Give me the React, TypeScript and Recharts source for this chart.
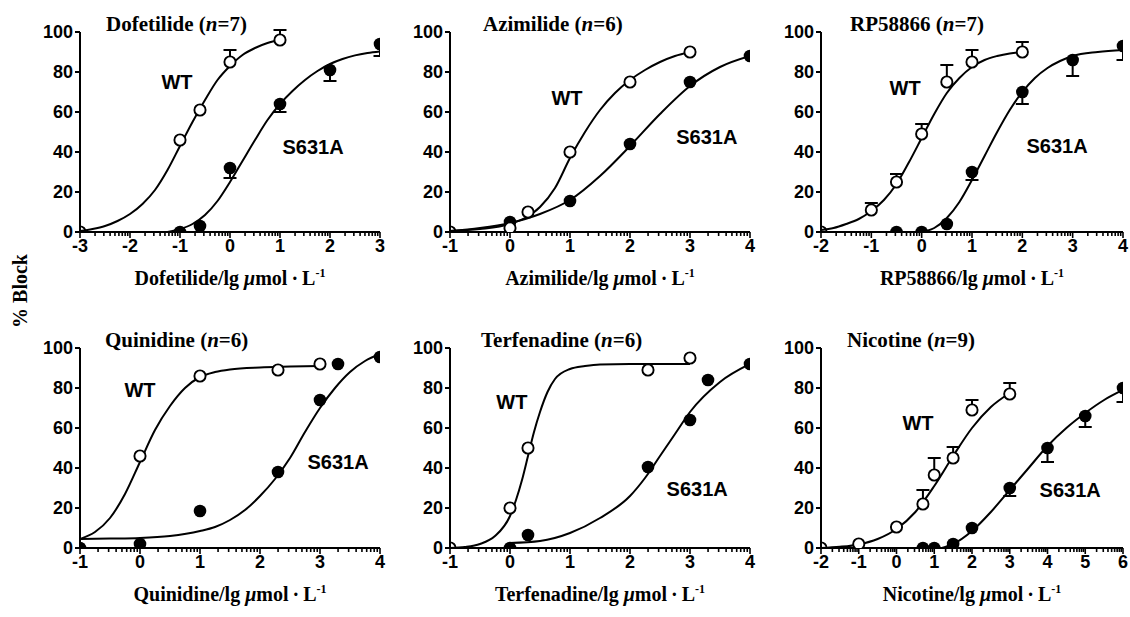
import React from 'react';
import { ComposedChart, Line, Scatter, XAxis, YAxis, ReferenceDot, ReferenceLine } from 'recharts';

const SANS = '"Liberation Sans", Arial, sans-serif';
const SERIF = '"Liberation Serif", "Times New Roman", serif';

type Pt = { x: number; y: number; e: number[] };
type CPt = { x: number; y: number | null };
type Lb = { x: number; y: number; text: string };

const yTicks = [0, 20, 40, 60, 80, 100];

// ---------- Dofetilide ----------
const dofTicks = [-3, -2, -1, 0, 1, 2, 3];
const dofWtPoints: Pt[] = [
  { x: -3, y: 0, e: [0, 0] },
  { x: -1, y: 46, e: [0, 0] },
  { x: -0.6, y: 61, e: [0, 0] },
  { x: 0, y: 85, e: [0, 6] },
  { x: 1, y: 96, e: [0, 5] },
];
const dofMutPoints: Pt[] = [
  { x: -1, y: 0, e: [0, 0] },
  { x: -0.6, y: 3, e: [0, 0] },
  { x: 0, y: 32, e: [5, 0] },
  { x: 1, y: 64, e: [4, 0] },
  { x: 2, y: 81, e: [5.5, 0] },
  { x: 3, y: 94, e: [6, 0] },
];
const dofWtCurve: CPt[] = [
  { x: -3, y: 0.5 }, { x: -2.75, y: 1.5 }, { x: -2.5, y: 3 }, { x: -2.25, y: 5.5 }, { x: -2, y: 9 },
  { x: -1.75, y: 14 }, { x: -1.5, y: 21 }, { x: -1.25, y: 31 }, { x: -1, y: 43 }, { x: -0.75, y: 55 },
  { x: -0.5, y: 66 }, { x: -0.25, y: 76 }, { x: 0, y: 83 }, { x: 0.25, y: 88.5 }, { x: 0.5, y: 92 },
  { x: 0.75, y: 94.5 }, { x: 1, y: 96 },
];
const dofMutCurve: CPt[] = [
  { x: -1.25, y: 0 }, { x: -1, y: 1.5 }, { x: -0.75, y: 4 }, { x: -0.5, y: 8.5 }, { x: -0.25, y: 15.5 },
  { x: 0, y: 25 }, { x: 0.25, y: 35.5 }, { x: 0.5, y: 46 }, { x: 0.75, y: 56 }, { x: 1, y: 64 },
  { x: 1.25, y: 70.5 }, { x: 1.5, y: 76 }, { x: 1.75, y: 80.5 }, { x: 2, y: 84 }, { x: 2.25, y: 86.5 },
  { x: 2.5, y: 88.3 }, { x: 2.75, y: 89.5 }, { x: 3, y: 90.3 },
];
const dofLabels: Lb[] = [
  { x: -1.06, y: 75, text: 'WT' },
  { x: 1.66, y: 42.6, text: 'S631A' },
];

// ---------- Azimilide ----------
const azTicks = [-1, 0, 1, 2, 3, 4];
const azWtPoints: Pt[] = [
  { x: -1, y: 0, e: [0, 0] },
  { x: 0, y: 2, e: [0, 0] },
  { x: 0.3, y: 10, e: [0, 0] },
  { x: 1, y: 40, e: [0, 0] },
  { x: 2, y: 75, e: [0, 0] },
  { x: 3, y: 90, e: [0, 0] },
];
const azMutPoints: Pt[] = [
  { x: 0, y: 5, e: [0, 0] },
  { x: 1, y: 15.5, e: [0, 0] },
  { x: 2, y: 44, e: [0, 0] },
  { x: 3, y: 75, e: [0, 0] },
  { x: 4, y: 88, e: [0, 0] },
];
const azWtCurve: CPt[] = [
  { x: -1, y: 0.5 }, { x: -0.5, y: 1.5 }, { x: 0, y: 4 }, { x: 0.25, y: 7 }, { x: 0.5, y: 12.5 },
  { x: 0.75, y: 22 }, { x: 1, y: 37 }, { x: 1.25, y: 50 }, { x: 1.5, y: 61 }, { x: 1.75, y: 69.5 },
  { x: 2, y: 76 }, { x: 2.25, y: 81 }, { x: 2.5, y: 85 }, { x: 2.75, y: 88 }, { x: 3, y: 90 },
];
const azMutCurve: CPt[] = [
  { x: -1, y: 0.5 }, { x: -0.5, y: 2 }, { x: 0, y: 4.5 }, { x: 0.5, y: 9 }, { x: 1, y: 16 },
  { x: 1.5, y: 28 }, { x: 2, y: 43 }, { x: 2.5, y: 59 }, { x: 3, y: 73 }, { x: 3.5, y: 82.5 }, { x: 4, y: 88 },
];
const azLabels: Lb[] = [
  { x: 0.95, y: 67, text: 'WT' },
  { x: 3.28, y: 47.6, text: 'S631A' },
];

// ---------- RP58866 ----------
const rpTicks = [-2, -1, 0, 1, 2, 3, 4];
const rpWtPoints: Pt[] = [
  { x: -2, y: 0, e: [0, 0] },
  { x: -1, y: 11, e: [0, 3.5] },
  { x: -0.5, y: 25, e: [0, 4] },
  { x: 0, y: 49, e: [0, 5] },
  { x: 0.5, y: 75, e: [0, 8.5] },
  { x: 1, y: 85, e: [0, 6] },
  { x: 2, y: 90, e: [0, 5] },
];
const rpMutPoints: Pt[] = [
  { x: -0.5, y: 0, e: [0, 0] },
  { x: 0, y: 0, e: [0, 0] },
  { x: 0.5, y: 4, e: [0, 0] },
  { x: 1, y: 30, e: [4, 0] },
  { x: 2, y: 70, e: [6, 0] },
  { x: 3, y: 86, e: [8, 0] },
  { x: 4, y: 93, e: [7, 0] },
];
const rpWtCurve: CPt[] = [
  { x: -2, y: 1 }, { x: -1.75, y: 2 }, { x: -1.5, y: 4 }, { x: -1.25, y: 6.5 }, { x: -1, y: 10.5 },
  { x: -0.75, y: 16 }, { x: -0.5, y: 24 }, { x: -0.25, y: 35 }, { x: 0, y: 47 }, { x: 0.25, y: 59 },
  { x: 0.5, y: 69.5 }, { x: 0.75, y: 77 }, { x: 1, y: 82.5 }, { x: 1.25, y: 86 }, { x: 1.5, y: 88 },
  { x: 1.75, y: 89.3 }, { x: 2, y: 90 },
];
const rpMutCurve: CPt[] = [
  { x: 0, y: 0 }, { x: 0.25, y: 2 }, { x: 0.5, y: 7 }, { x: 0.75, y: 15 }, { x: 1, y: 26 },
  { x: 1.25, y: 38 }, { x: 1.5, y: 50 }, { x: 1.75, y: 61 }, { x: 2, y: 70 }, { x: 2.25, y: 77 },
  { x: 2.5, y: 82 }, { x: 2.75, y: 85.5 }, { x: 3, y: 88 }, { x: 3.5, y: 90 }, { x: 4, y: 91 },
];
const rpLabels: Lb[] = [
  { x: -0.33, y: 72, text: 'WT' },
  { x: 2.69, y: 43, text: 'S631A' },
];

// ---------- Quinidine ----------
const quTicks = [-1, 0, 1, 2, 3, 4];
const quWtPoints: Pt[] = [
  { x: 0, y: 46, e: [0, 0] },
  { x: 1, y: 86, e: [0, 0] },
  { x: 2.3, y: 89, e: [0, 0] },
  { x: 3, y: 92, e: [0, 0] },
];
const quMutPoints: Pt[] = [
  { x: -1, y: 0, e: [0, 0] },
  { x: 0, y: 2, e: [0, 0] },
  { x: 1, y: 18.5, e: [0, 0] },
  { x: 2.3, y: 38, e: [0, 0] },
  { x: 3, y: 74, e: [0, 0] },
  { x: 3.3, y: 92, e: [0, 0] },
  { x: 4, y: 95.5, e: [0, 0] },
];
const quWtCurve: CPt[] = [
  { x: -1, y: 4.5 }, { x: -0.75, y: 8 }, { x: -0.5, y: 15 }, { x: -0.25, y: 27 }, { x: 0, y: 43 },
  { x: 0.25, y: 59 }, { x: 0.5, y: 71 }, { x: 0.75, y: 80 }, { x: 1, y: 85.5 }, { x: 1.25, y: 88 },
  { x: 1.5, y: 89.3 }, { x: 2, y: 90.3 }, { x: 2.5, y: 90.7 }, { x: 3, y: 91 },
];
const quMutCurve: CPt[] = [
  { x: -1, y: 4.5 }, { x: -0.5, y: 4.7 }, { x: 0, y: 5 }, { x: 0.5, y: 6 }, { x: 1, y: 8.5 },
  { x: 1.25, y: 10.5 }, { x: 1.5, y: 14 }, { x: 1.75, y: 19 }, { x: 2, y: 26 }, { x: 2.25, y: 34.5 },
  { x: 2.5, y: 45 }, { x: 2.75, y: 58 }, { x: 3, y: 70 }, { x: 3.25, y: 80 }, { x: 3.5, y: 88 },
  { x: 3.75, y: 93.5 }, { x: 4, y: 97 },
];
const quLabels: Lb[] = [
  { x: 0, y: 79, text: 'WT' },
  { x: 3.3, y: 43, text: 'S631A' },
];

// ---------- Terfenadine ----------
const teTicks = [-1, 0, 1, 2, 3, 4];
const teWtPoints: Pt[] = [
  { x: -1, y: 0, e: [0, 0] },
  { x: 0, y: 20, e: [0, 0] },
  { x: 0.3, y: 50, e: [0, 0] },
  { x: 2.3, y: 89, e: [0, 0] },
  { x: 3, y: 95, e: [0, 0] },
];
const teMutPoints: Pt[] = [
  { x: 0, y: 0, e: [0, 0] },
  { x: 0.3, y: 6.5, e: [0, 0] },
  { x: 2.3, y: 40.5, e: [0, 0] },
  { x: 3, y: 64, e: [0, 0] },
  { x: 3.3, y: 84, e: [0, 0] },
  { x: 4, y: 92, e: [0, 0] },
];
const teWtCurve: CPt[] = [
  { x: -1, y: 0 }, { x: -0.75, y: 0.5 }, { x: -0.5, y: 2 }, { x: -0.25, y: 6 }, { x: 0, y: 16 },
  { x: 0.1, y: 24 }, { x: 0.2, y: 34 }, { x: 0.3, y: 46 }, { x: 0.4, y: 58 }, { x: 0.5, y: 68 },
  { x: 0.625, y: 78 }, { x: 0.75, y: 84.5 }, { x: 1, y: 89.5 }, { x: 1.25, y: 91 }, { x: 1.5, y: 91.8 },
  { x: 2, y: 92 }, { x: 3, y: 92 },
];
const teMutCurve: CPt[] = [
  { x: 0, y: 2.5 }, { x: 0.5, y: 3.5 }, { x: 1, y: 7.5 }, { x: 1.5, y: 15 }, { x: 2, y: 26 },
  { x: 2.25, y: 35 }, { x: 2.5, y: 46 }, { x: 2.75, y: 57 }, { x: 3, y: 68 }, { x: 3.5, y: 83 }, { x: 4, y: 92 },
];
const teLabels: Lb[] = [
  { x: 0.03, y: 73, text: 'WT' },
  { x: 3.12, y: 29.6, text: 'S631A' },
];

// ---------- Nicotine ----------
const niTicks = [-2, -1, 0, 1, 2, 3, 4, 5, 6];
const niWtPoints: Pt[] = [
  { x: -2, y: 0, e: [0, 0] },
  { x: -1, y: 2, e: [0, 0] },
  { x: 0, y: 10.5, e: [0, 0] },
  { x: 0.7, y: 22, e: [0, 7] },
  { x: 1, y: 36.5, e: [0, 8.5] },
  { x: 1.5, y: 45, e: [0, 5.5] },
  { x: 2, y: 69, e: [0, 5] },
  { x: 3, y: 77, e: [0, 5.5] },
];
const niMutPoints: Pt[] = [
  { x: 0.7, y: 0, e: [0, 0] },
  { x: 1, y: 0, e: [0, 0] },
  { x: 1.5, y: 2, e: [0, 0] },
  { x: 2, y: 10, e: [0, 0] },
  { x: 3, y: 30, e: [4, 0] },
  { x: 4, y: 50, e: [7, 0] },
  { x: 5, y: 66, e: [5.5, 0] },
  { x: 6, y: 80, e: [7, 0] },
];
const niWtCurve: CPt[] = [
  { x: -2, y: 0 }, { x: -1.5, y: 0.6 }, { x: -1, y: 1.8 }, { x: -0.5, y: 4.5 }, { x: 0, y: 9.5 },
  { x: 0.5, y: 18 }, { x: 1, y: 31 }, { x: 1.5, y: 46 }, { x: 2, y: 60 }, { x: 2.5, y: 70.5 }, { x: 3, y: 77.5 },
];
const niMutCurve: CPt[] = [
  { x: 1.2, y: 0 }, { x: 1.5, y: 2 }, { x: 2, y: 8.5 }, { x: 2.5, y: 18 }, { x: 3, y: 29 },
  { x: 3.5, y: 40 }, { x: 4, y: 51 }, { x: 4.5, y: 60 }, { x: 5, y: 67.5 }, { x: 5.5, y: 74 }, { x: 6, y: 79 },
];
const niLabels: Lb[] = [
  { x: 0.57, y: 62.4, text: 'WT' },
  { x: 4.6, y: 29, text: 'S631A' },
];

type PanelCfg = {
  name: string; n: number; majors: number[];
  wt: Pt[]; mut: Pt[]; wtCurve: CPt[]; mutCurve: CPt[]; labels: Lb[];
  axisX: number; top: number; plotW: number; mr: number; titleX: number;
};

const panels: PanelCfg[] = [
  { name: 'Dofetilide', n: 7, majors: dofTicks, wt: dofWtPoints, mut: dofMutPoints, wtCurve: dofWtCurve, mutCurve: dofMutCurve, labels: dofLabels, axisX: 80, top: 0, plotW: 300, mr: 10, titleX: 106 },
  { name: 'Azimilide', n: 6, majors: azTicks, wt: azWtPoints, mut: azMutPoints, wtCurve: azWtCurve, mutCurve: azMutCurve, labels: azLabels, axisX: 450, top: 0, plotW: 300, mr: 10, titleX: 483 },
  { name: 'RP58866', n: 7, majors: rpTicks, wt: rpWtPoints, mut: rpMutPoints, wtCurve: rpWtCurve, mutCurve: rpMutCurve, labels: rpLabels, axisX: 821, top: 0, plotW: 302, mr: 7, titleX: 850 },
  { name: 'Quinidine', n: 6, majors: quTicks, wt: quWtPoints, mut: quMutPoints, wtCurve: quWtCurve, mutCurve: quMutCurve, labels: quLabels, axisX: 80, top: 316, plotW: 300, mr: 10, titleX: 105 },
  { name: 'Terfenadine', n: 6, majors: teTicks, wt: teWtPoints, mut: teMutPoints, wtCurve: teWtCurve, mutCurve: teMutCurve, labels: teLabels, axisX: 450, top: 316, plotW: 300, mr: 10, titleX: 481 },
  { name: 'Nicotine', n: 9, majors: niTicks, wt: niWtPoints, mut: niMutPoints, wtCurve: niWtCurve, mutCurve: niMutCurve, labels: niLabels, axisX: 821, top: 316, plotW: 302, mr: 7, titleX: 847 },
];

// y range is 0..105 (headroom for error caps above 100); 100 sits at y = top + 32
const Y_MAX = 105;
const MARGIN_TOP = 22;
const PLOT_H = 210;
const XAXIS_H = 60;

function minorTicks(lo: number, hi: number): number[] {
  const out: number[] = [];
  for (let d = Math.floor(lo); d < hi; d++) {
    for (let k = 2; k <= 9; k++) {
      const v = d + Math.log10(k);
      if (v > lo && v < hi) out.push(v);
    }
  }
  return out;
}

// error-bar stems (point -> tip, separated by nulls) and tips, derived from the points
function errStems(pts: Pt[]): CPt[] {
  const out: CPt[] = [];
  pts.forEach((p) => {
    if (p.e[1] > 0) out.push({ x: p.x, y: p.y }, { x: p.x, y: p.y + p.e[1] }, { x: p.x, y: null });
    if (p.e[0] > 0) out.push({ x: p.x, y: p.y }, { x: p.x, y: p.y - p.e[0] }, { x: p.x, y: null });
  });
  return out;
}
function errTips(pts: Pt[]): CPt[] {
  const out: CPt[] = [];
  pts.forEach((p) => {
    if (p.e[1] > 0) out.push({ x: p.x, y: p.y + p.e[1] });
    if (p.e[0] > 0) out.push({ x: p.x, y: p.y - p.e[0] });
  });
  return out;
}

const OpenDot = (p: any) => {
  if (p.cx == null || p.cy == null) return <g />;
  return (
    <circle cx={p.cx} cy={p.cy} r={5.6}
      fill={p.payload && p.payload.y === 0 ? 'none' : '#fff'}
      stroke="#000" strokeWidth={1.9} />
  );
};
const FilledDot = (p: any) => {
  if (p.cx == null || p.cy == null) return <g />;
  return <circle cx={p.cx} cy={p.cy} r={6.3} fill="#000" stroke="none" />;
};
const Cap = (p: any) => {
  if (p.cx == null || p.cy == null) return <g />;
  return <line x1={p.cx - 6.5} x2={p.cx + 6.5} y1={p.cy} y2={p.cy} stroke="#000" strokeWidth={2} />;
};

function Panel({ cfg }: { cfg: PanelCfg }) {
  const lo = cfg.majors[0];
  const hi = cfg.majors[cfg.majors.length - 1];
  const ticks = [...cfg.majors, ...minorTicks(lo, hi)].sort((a, b) => a - b);
  const allPts = [...cfg.wt, ...cfg.mut];
  const stems = errStems(allPts);
  const tips = errTips(allPts);
  const renderTick = (props: any) => {
    const { x, y, payload } = props;
    const v = payload.value;
    const isMajor = cfg.majors.includes(v);
    return (
      <g>
        <line x1={x} x2={x} y1={y} y2={y + (isMajor ? 6 : 4)} stroke="#000" strokeWidth={1.6} />
        {isMajor && (
          <text x={x} y={y + 20} textAnchor="middle" fill="#000" fontSize={18} fontWeight={700} fontFamily={SANS}>
            {String(v)}
          </text>
        )}
      </g>
    );
  };
  const width = 80 + cfg.plotW + cfg.mr;
  return (
    <div style={{ position: 'absolute', left: cfg.axisX - 80, top: cfg.top }}>
      <ComposedChart width={width} height={MARGIN_TOP + PLOT_H + XAXIS_H}
        margin={{ top: MARGIN_TOP, right: cfg.mr, bottom: 0, left: 0 }}>
        <XAxis type="number" dataKey="x" domain={[lo, hi]} ticks={ticks} interval={0} allowDataOverflow
          height={XAXIS_H} tickLine={false} tickSize={0} tickMargin={0}
          axisLine={{ stroke: '#000', strokeWidth: 2 }} tick={renderTick} />
        <YAxis type="number" domain={[0, Y_MAX]} ticks={yTicks} interval={0} width={80} allowDataOverflow
          tickSize={5} tickMargin={2}
          axisLine={false}
          tickLine={{ stroke: '#000', strokeWidth: 2 }}
          tick={{ fill: '#000', fontSize: 18, fontWeight: 700, fontFamily: SANS }} />
        <ReferenceLine segment={[{ x: lo, y: 0 }, { x: lo, y: 100 }]} stroke="#000" strokeWidth={2} />
        <Line data={cfg.wtCurve} dataKey="y" type="monotone" dot={false} stroke="#000"
          strokeWidth={2} isAnimationActive={false} activeDot={false} />
        <Line data={cfg.mutCurve} dataKey="y" type="monotone" dot={false} stroke="#000"
          strokeWidth={2} isAnimationActive={false} activeDot={false} />
        <Line data={stems} dataKey="y" type="linear" dot={false} stroke="#000" connectNulls={false}
          strokeWidth={2} isAnimationActive={false} activeDot={false} />
        <Scatter data={tips} dataKey="y" shape={Cap} isAnimationActive={false} />
        <Scatter data={cfg.mut} dataKey="y" shape={FilledDot} isAnimationActive={false} />
        <Scatter data={cfg.wt} dataKey="y" shape={OpenDot} isAnimationActive={false} />
        {cfg.labels.map((l) => (
          <ReferenceDot key={l.text} x={l.x} y={l.y} r={0} fill="none" stroke="none"
            label={{ value: l.text, position: 'center', fill: '#000', fontSize: 20, fontWeight: 700, fontFamily: SANS }} />
        ))}
      </ComposedChart>
    </div>
  );
}

export default function App() {
  return (
    <div style={{ position: 'absolute', left: 0, top: 0, width: 1130, height: 617, background: '#fff', overflow: 'hidden' }}>
      {panels.map((p) => <Panel key={p.name} cfg={p} />)}
      <svg width={1130} height={617} style={{ position: 'absolute', left: 0, top: 0, pointerEvents: 'none' }}>
        {panels.map((p) => (
          <g key={p.name}>
            <text x={p.titleX} y={p.top + 31} fontFamily={SERIF} fontWeight={700} fontSize={21} fill="#000">
              {p.name + ' ('}<tspan fontStyle="italic">n</tspan>{'=' + p.n + ')'}
            </text>
            <text x={p.axisX + p.plotW / 2} y={p.top + 285} textAnchor="middle" fontFamily={SERIF} fontWeight={700} fontSize={20} fill="#000">
              {p.name + '/lg '}<tspan fontStyle="italic">μ</tspan>{'mol\u2009·\u2009L'}<tspan dy={-8} fontSize={12}>-1</tspan>
            </text>
          </g>
        ))}
        <text transform="translate(27,291) rotate(-90)" textAnchor="middle" fontFamily={SERIF} fontWeight={700} fontSize={20} fill="#000">
          % Block
        </text>
      </svg>
    </div>
  );
}
